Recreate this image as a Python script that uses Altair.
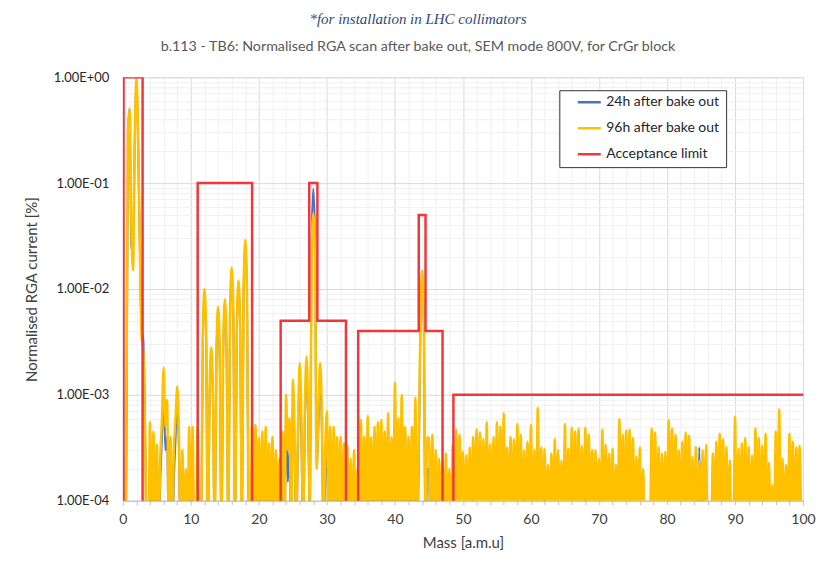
import altair as alt
import pandas as pd

SERIES = ["24h after bake out", "96h after bake out", "Acceptance limit"]
COLORS = ["#4472C4", "#FFC000", "#F0373C"]
STEP = 0.25  # amu between samples; values below are in units of 1e-4

ORANGE_0_24 = [
    [0.3, 0.3, 4, 3000], [5000, 400, 150, 2500], [10000, 2500, 250, 35], [26, 5, 0.4, 0.5],
    [5.5, 0.4, 4.5, 0.4], [3.4, 0.4, 2.5, 6], [18, 5, 9, 0.5], [4, 0.5, 3, 6],
    [12, 4, 0.4, 3], [0.4, 2, 0.4, 5], [0.4, 5, 0.4, 0.5], [5, 0.4, 0.3, 35],
    [100, 35, 0.4, 10], [28, 10, 0.4, 24], [68, 24, 0.4, 28], [80, 28, 0.4, 56],
    [160, 56, 0.4, 42], [120, 42, 0.4, 100], [290, 100, 0.6, 0.4], [5.4, 0.4, 5.2, 0.4],
    [3.9, 0.5, 4.5, 0.4], [5, 0.4, 3.5, 0.5], [4, 0.4, 3, 0.4], [2.5, 0.4, 4.5, 0.4],
    [10, 3, 6, 0.5],
]
ORANGE_25_48 = [
    [14, 4, 0.6, 5], [20, 6, 0.6, 7], [23, 7, 0.8, 180], [520, 180, 2, 7],
    [20, 7, 0.5, 3], [7, 0.5, 5, 0.4], [5, 0.4, 4, 0.4], [4, 0.5, 3.5, 0.4],
    [3.3, 0.4, 2.5, 0.4], [3, 0.4, 2, 0.4], [5.8, 0.5, 4, 0.4], [6.3, 0.6, 4, 0.4],
    [5, 0.5, 5.5, 0.5], [5.8, 0.5, 4.5, 0.4], [6.7, 0.6, 4, 0.5], [13, 0.8, 6, 0.5],
    [10, 0.6, 5, 0.4], [4, 0.5, 5, 0.5], [9.4, 0.6, 3, 50], [150, 50, 0.6, 4],
    [3.9, 0.4, 4.2, 0.4], [3, 0.4, 2.5, 0.4], [2.4, 0.4, 2.8, 0.4], [2, 0.4, 3.4, 0.4],
]
ORANGE_49_74 = [
    [4.7, 0.4, 4.2, 0.4], [2.9, 0.5, 2.7, 0.6], [3.2, 0.4, 4.0, 0.5], [4.7, 0.5, 4.4, 0.4],
    [3.8, 0.4, 5.5, 0.4], [3.4, 0.6, 4.0, 0.5], [5.5, 0.5, 5.0, 0.4], [6.7, 0.4, 3.2, 0.5],
    [4.0, 0.5, 3.8, 0.6], [5.3, 0.4, 4.2, 0.4], [3.0, 0.5, 3.6, 0.4], [5.2, 0.5, 3.0, 0.4],
    [7.6, 0.5, 3.2, 0.4], [3.1, 0.5, 2.2, 0.4], [2.8, 0.4, 3.8, 0.4], [3.0, 0.6, 2.4, 0.5],
    [5.3, 0.4, 3.1, 0.6], [4.9, 0.5, 4.5, 0.4], [4.8, 0.4, 3.3, 0.5], [4.9, 0.5, 4.2, 0.4],
    [3.0, 0.4, 3.0, 0.5], [2.5, 0.6, 4.7, 0.4], [3.4, 0.6, 2.8, 0.4], [3.1, 0.4, 2.2, 0.5],
    [5.9, 0.7, 4.2, 0.5], [4.6, 0.4, 4.7, 0.4],
]
ORANGE_75_99 = [
    [3.9, 0.4, 2.6, 0.5], [3.2, 0.4, 2.0, 0.3], [0.3, 0.3, 0.5, 4.8], [0.4, 4.4, 0.5, 3.2],
    [0.4, 2.8, 0.5, 2.9], [0.5, 5.8, 0.5, 4.8], [0.4, 4.2, 0.4, 3.0], [0.5, 3.6, 0.4, 4.4],
    [0.5, 4.1, 0.5, 2.6], [0.4, 3.2, 0.4, 2.4], [0.4, 3.0, 0.5, 3.4], [0.3, 0.3, 0.4, 2.8],
    [0.4, 3.6, 0.5, 4.3], [0.4, 3.8, 0.4, 3.2], [0.5, 2.4, 0.3, 0.3], [6.2, 0.5, 3.1, 0.5],
    [3.5, 0.4, 3.9, 0.5], [3.2, 0.4, 2.7, 0.5], [4.8, 0.4, 3.9, 0.4], [3.3, 0.5, 4.3, 0.4],
    [2.3, 0.4, 1.4, 0.5], [4.5, 0.5, 7.3, 0.4], [2.5, 0.4, 2.2, 0.5], [4.3, 0.4, 3.6, 0.5],
    [3.2, 0.4, 3.3, 0.4],
]

BLUE_0_24 = [
    [0.3, 0.3, 1.3, 3000], [5100, 250, 220, 2500], [10000, 2500, 250, 40], [34, 6, 0.4, 0.4],
    [3, 0.4, 2.5, 0.3], [2, 0.3, 1.5, 4], [12, 3, 4, 0.4], [2, 0.3, 1.5, 4],
    [9, 3, 0.3, 1.5], [0.3, 1.2, 0.3, 2.5], [0.3, 2.5, 0.3, 0.3], [2, 0.3, 0.3, 32],
    [90, 32, 0.4, 9], [25, 9, 0.4, 21], [60, 21, 0.4, 25], [70, 25, 0.4, 49],
    [140, 49, 0.4, 38], [110, 38, 0.4, 90], [260, 90, 0.5, 0.3], [2.5, 0.3, 2, 0.3],
    [2, 0.4, 2, 0.3], [2.5, 0.3, 1.5, 0.3], [2, 0.3, 1.5, 0.3], [1.2, 0.3, 2, 0.3],
    [7, 1.5, 3, 0.4],
]
BLUE_25_48 = [
    [10, 3, 0.4, 4], [15, 4, 0.4, 5], [18, 5, 0.6, 300], [890, 300, 2, 5],
    [16, 5, 0.4, 1.5], [4, 0.4, 2.5, 0.3], [3, 0.3, 2, 0.3], [2, 0.3, 1.5, 0.3],
    [1.5, 0.3, 1.2, 0.3], [1.5, 0.3, 1, 0.3], [3, 0.3, 2, 0.3], [3, 0.4, 2, 0.3],
    [2.5, 0.3, 2.5, 0.3], [3, 0.3, 2, 0.3], [3.5, 0.4, 2, 0.3], [8.4, 0.5, 3, 0.4],
    [5, 0.4, 2.5, 0.3], [2, 0.3, 2.5, 0.3], [4, 0.4, 2.1, 45], [130, 45, 0.4, 2],
    [2, 0.3, 2, 0.3], [1.5, 0.3, 1.2, 0.3], [1.2, 0.3, 1.4, 0.3], [1, 0.3, 1.7, 0.3],
]
BLUE_49_74 = [
    [0.6, 0.3, 0.8, 0.3], [0.7, 0.3, 0.6, 0.3], [0.5, 0.3, 1.6, 0.3], [0.8, 0.3, 0.6, 0.3],
    [0.7, 0.3, 0.6, 0.3], [0.6, 0.3, 0.8, 0.3], [0.7, 0.3, 0.8, 0.3], [0.9, 0.3, 0.6, 0.3],
    [0.6, 0.3, 0.7, 0.3], [0.8, 0.3, 0.7, 0.3], [1.3, 0.3, 0.8, 0.3], [0.7, 0.3, 0.6, 0.3],
    [0.9, 0.3, 0.6, 0.3], [2.3, 0.3, 0.5, 0.3], [0.6, 0.3, 0.7, 0.3], [0.6, 0.3, 0.5, 0.3],
    [0.8, 0.3, 0.6, 0.3], [0.7, 0.3, 0.7, 0.3], [0.8, 0.3, 0.6, 0.3], [1.8, 0.3, 0.7, 0.3],
    [0.6, 0.3, 0.6, 0.3], [0.5, 0.3, 0.7, 0.3], [0.6, 0.3, 0.5, 0.3], [0.6, 0.3, 0.5, 0.3],
    [0.8, 0.3, 0.7, 0.3], [0.7, 0.3, 0.7, 0.3],
]
BLUE_75_99 = [
    [0.7, 0.3, 0.5, 0.3], [0.6, 0.3, 0.4, 0.3], [0.3, 0.3, 0.3, 0.7], [0.3, 0.7, 0.3, 0.6],
    [0.3, 0.5, 0.3, 0.5], [0.3, 0.8, 0.3, 0.7], [0.3, 0.7, 0.3, 0.5], [0.3, 0.6, 0.3, 0.7],
    [0.3, 0.7, 0.3, 0.5], [0.3, 0.6, 0.3, 3.2], [0.3, 2.3, 0.3, 0.5], [0.3, 0.3, 0.3, 0.5],
    [0.3, 0.6, 0.3, 0.7], [0.3, 0.7, 0.3, 0.6], [0.3, 0.5, 0.3, 0.3], [0.9, 0.3, 0.6, 0.3],
    [0.6, 0.3, 0.7, 0.3], [0.5, 0.3, 0.5, 0.3], [0.7, 0.3, 0.5, 0.3], [0.6, 0.3, 0.7, 0.3],
    [0.5, 0.3, 0.3, 0.3], [0.7, 0.3, 0.9, 0.3], [0.5, 0.3, 0.4, 0.3], [1.2, 0.3, 0.6, 0.3],
    [0.6, 0.3, 0.5, 0.3],
]

LIMIT_MASS = [0.1, 0.1, 2.9, 2.9, 11, 11, 19, 19, 23.2, 23.2, 27.4, 27.4, 28.6, 28.6,
              32.8, 32.8, 34.6, 34.6, 43.5, 43.5, 44.5, 44.5, 47, 47, 48.6, 48.6, 100]
LIMIT_VALUE = [1e-5, 1, 1, 1e-5, 1e-5, 0.1, 0.1, 1e-5, 1e-5, 5e-3, 5e-3, 0.1, 0.1, 5e-3,
               5e-3, 1e-5, 1e-5, 4e-3, 4e-3, 5e-2, 5e-2, 4e-3, 4e-3, 1e-5, 1e-5, 1e-3, 1e-3]

Y_TICKS = [m * 10.0 ** e for e in range(-4, 0) for m in range(1, 10)] + [1.0]
X_TICKS = list(range(0, 101, 2))


def flatten(blocks):
    return [v for row in blocks for v in row]


rows = []
for name, blocks in [(SERIES[0], BLUE_0_24 + BLUE_25_48 + BLUE_49_74 + BLUE_75_99),
                     (SERIES[1], ORANGE_0_24 + ORANGE_25_48 + ORANGE_49_74 + ORANGE_75_99)]:
    for i, u in enumerate(flatten(blocks)):
        rows.append({"series": name, "mass": i * STEP, "value": u * 1e-4, "idx": i})
df = pd.DataFrame(rows)
df_blue = df[df.series == SERIES[0]]
df_orange = df[df.series == SERIES[1]]
df_lim = pd.DataFrame({"series": SERIES[2], "mass": LIMIT_MASS, "value": LIMIT_VALUE,
                       "idx": list(range(len(LIMIT_MASS)))})

FONT = "Lato"
is_decade = "abs(log(datum.value)/LN10 - round(log(datum.value)/LN10)) < 1e-6"

x_enc = alt.X("mass:Q", scale=alt.Scale(domain=[0, 100], nice=False),
              axis=alt.Axis(values=X_TICKS, title="Mass [a.m.u]",
                            labelExpr="datum.value % 10 == 0 ? datum.label : ''",
                            gridColor={"condition": {"test": "datum.value % 10 == 0", "value": "#D9D9D9"},
                                       "value": "#F0F0F0"},
                            tickColor="#BFBFBF", tickSize=4, domainColor="#BFBFBF",
                            labelFontSize=14, labelColor="#404040", labelPadding=8,
                            labelFlush=False,
                            titleFontSize=15, titleColor="#404040", titleFontWeight="normal",
                            titlePadding=9, labelOverlap=False, labelFont=FONT, titleFont=FONT))
y_enc = alt.Y("value:Q", scale=alt.Scale(type="log", domain=[1e-4, 1], nice=False),
              axis=alt.Axis(values=Y_TICKS, title="Normalised RGA current [%]",
                            labelExpr=f"{is_decade} ? ('1.00E' + (datum.value >= 1 ? '+00' : '-0' + round(-log(datum.value)/LN10))) : ''",
                            gridColor={"condition": {"test": is_decade, "value": "#D9D9D9"},
                                       "value": "#F0F0F0"},
                            ticks=False, domain=False, labelFontSize=13, labelColor="#262626",
                            labelPadding=14, labelFlush=False,
                            titleFontSize=15, titleColor="#404040",
                            titleFontWeight="normal", titlePadding=14, labelOverlap=False,
                            labelFont=FONT, titleFont=FONT))
color_enc = alt.Color("series:N", scale=alt.Scale(domain=SERIES, range=COLORS),
                      legend=alt.Legend(title=None, orient="none", legendX=437, legendY=13,
                                        symbolType="stroke", symbolSize=529, symbolStrokeWidth=2.5,
                                        labelFontSize=14, labelFont=FONT, labelColor="#262626",
                                        labelExpr="datum.label + '\u2003'",
                                        padding=6, rowPadding=12, symbolOffset=11, clipHeight=12,
                                        strokeColor="#333333", fillColor="white"))

blue = alt.Chart(df_blue).mark_line(strokeWidth=2, clip=True, interpolate="monotone").encode(
    x=x_enc, y=y_enc, color=color_enc, order="idx:Q")
orange = alt.Chart(df_orange).mark_line(strokeWidth=2.5, clip=True, interpolate="monotone").encode(
    x=x_enc, y=y_enc, color=color_enc, order="idx:Q")
limit = alt.Chart(df_lim).mark_line(strokeWidth=2.5, clip=True).encode(
    x=x_enc, y=y_enc, color=color_enc, order="idx:Q")

chart = alt.layer(blue, orange, limit).properties(
    width=681, height=424,
    autosize=alt.AutoSizeParams(type="none"),
    padding={"left": 115, "top": 69, "right": 20, "bottom": 52},
    title=alt.TitleParams(
        text="*for installation in LHC collimators",
        subtitle="b.113 - TB6: Normalised RGA scan after bake out, SEM mode 800V,  for CrGr block",
        font="Liberation Serif", fontStyle="italic", fontWeight="normal", fontSize=15,
        color="#2E4A7A", subtitleFont=FONT, subtitleFontSize=14.3, subtitleColor="#595959",
        anchor="middle", dx=-45, offset=17, subtitlePadding=13),
).configure_view(stroke=None).configure(background="white")

chart.save("out.html", embed_options={"renderer": "svg", "actions": False})
